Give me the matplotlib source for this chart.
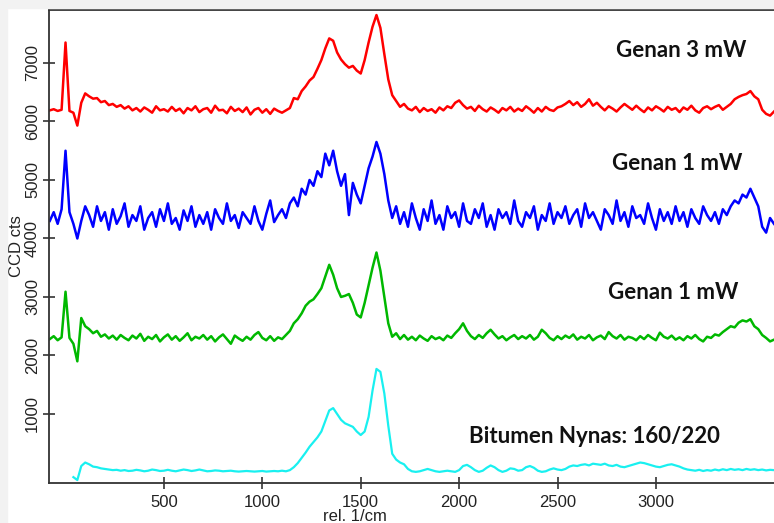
import matplotlib.pyplot as plt
from matplotlib.patches import Rectangle
import numpy as np

plt.rcParams['font.family'] = ['Liberation Sans', 'DejaVu Sans']

# Raman shift grid (rel. 1/cm), one value every 20 1/cm
shift = np.arange(-80, 3601, 20)

genan_3mw = [
    6190, 6210, 6180, 6200, 7350, 6180, 6150, 5930, 6320, 6480,
    6430, 6390, 6400, 6330, 6350, 6280, 6300, 6250, 6280, 6220,
    6260, 6190, 6230, 6170, 6240, 6200, 6150, 6260, 6190, 6210,
    6170, 6250, 6180, 6220, 6140, 6230, 6190, 6260, 6160, 6210,
    6230, 6150, 6270, 6190, 6200, 6140, 6250, 6180, 6220, 6160,
    6240, 6120, 6200, 6230, 6150, 6210, 6130, 6220, 6180, 6150,
    6190, 6230, 6400, 6380, 6520, 6600, 6700, 6760, 6900, 7050,
    7250, 7420, 7380, 7180, 7060, 6980, 6920, 6950, 6870, 6820,
    7050, 7350, 7620, 7820, 7600, 7150, 6720, 6450, 6350, 6250,
    6300, 6220, 6190, 6250, 6160, 6230, 6180, 6210, 6150, 6240,
    6190, 6260, 6230, 6320, 6360, 6280, 6220, 6250, 6180, 6270,
    6210, 6170, 6240, 6200, 6150, 6230, 6190, 6250, 6170, 6220,
    6180, 6260, 6210, 6150, 6230, 6170, 6250, 6200, 6180, 6240,
    6260, 6300, 6350, 6280, 6330, 6250, 6300, 6380, 6270, 6320,
    6250, 6190, 6260, 6220, 6170, 6240, 6300, 6250, 6200, 6270,
    6210, 6160, 6240, 6190, 6260, 6220, 6170, 6250, 6200, 6230,
    6160, 6240, 6200, 6270, 6190, 6150, 6230, 6260, 6210, 6250,
    6280, 6200, 6250, 6300, 6380, 6420, 6450, 6470, 6520, 6430,
    6380, 6200, 6130, 6100, 6170,
]

genan_1mw_a = [
    4300, 4450, 4250, 4500, 5500, 4450, 4250, 4000, 4300, 4550,
    4400, 4200, 4550, 4300, 4450, 4150, 4500, 4250, 4380, 4600,
    4200, 4400, 4300, 4550, 4150, 4350, 4450, 4200, 4500, 4300,
    4600, 4250, 4350, 4150, 4480, 4300, 4550, 4200, 4400, 4250,
    4450, 4150, 4500, 4350, 4250, 4600, 4300, 4400, 4180, 4450,
    4350, 4250, 4550, 4300, 4150, 4420, 4650, 4280, 4400, 4500,
    4350, 4600, 4700, 4550, 4850, 4750, 5000, 4900, 5150, 5050,
    5450, 5250, 5500, 5150, 4900, 5100, 4400, 4950, 4750, 4600,
    4900, 5200, 5400, 5650, 5450, 5100, 4650, 4350, 4550, 4250,
    4450, 4200, 4600, 4350, 4150, 4500, 4300, 4650, 4250, 4400,
    4150, 4550, 4350, 4450, 4200, 4600, 4300, 4250, 4500, 4350,
    4600, 4200, 4400, 4150, 4500, 4350, 4450, 4250, 4650, 4300,
    4200, 4450, 4350, 4550, 4150, 4400, 4300, 4600, 4250, 4450,
    4350, 4550, 4250, 4400, 4500, 4200, 4600, 4350, 4450, 4300,
    4150, 4500, 4400, 4250, 4650, 4300, 4450, 4200, 4550, 4350,
    4400, 4250, 4600, 4350, 4150, 4500, 4300, 4450, 4250, 4550,
    4300, 4450, 4200, 4500, 4350, 4250, 4550, 4400, 4300, 4450,
    4250, 4500, 4400, 4550, 4650, 4600, 4750, 4700, 4850, 4700,
    4550, 4200, 4100, 4350, 4250,
]

genan_1mw_b = [
    2280, 2330, 2260, 2310, 3090, 2300, 2200, 1900, 2640, 2500,
    2450, 2380, 2420, 2320, 2360, 2290, 2340, 2270, 2350, 2300,
    2260, 2340, 2290, 2370, 2250, 2320, 2280, 2350, 2240, 2310,
    2360, 2270, 2330, 2250, 2310, 2380, 2260, 2320, 2290, 2350,
    2270, 2330, 2240, 2310, 2360, 2280, 2200, 2340, 2290, 2250,
    2320, 2270, 2350, 2400, 2300, 2260, 2330, 2250, 2310, 2280,
    2350, 2420, 2550, 2620, 2720, 2850, 2920, 2960, 3050, 3150,
    3350, 3550, 3380, 3150, 3000, 3020, 3050, 2900, 2700, 2650,
    2900, 3200, 3500, 3760, 3450, 3000, 2550, 2320, 2380, 2280,
    2350, 2270, 2320, 2260, 2340, 2290, 2250, 2330, 2280, 2310,
    2260, 2340, 2300, 2380, 2450, 2550, 2420, 2330, 2280, 2350,
    2300, 2380, 2440, 2360, 2290, 2330, 2260, 2310, 2350, 2280,
    2330, 2290, 2350, 2270, 2320, 2440, 2380, 2300, 2260, 2330,
    2280, 2340, 2300, 2360, 2270, 2320, 2290, 2350, 2260, 2310,
    2340, 2280, 2400, 2330, 2290, 2350, 2270, 2320, 2300, 2260,
    2330, 2280, 2350, 2300, 2260, 2390, 2320, 2290, 2340, 2270,
    2310, 2260, 2330, 2290, 2350, 2280, 2240, 2320, 2300, 2360,
    2340, 2400, 2450, 2500, 2480, 2560, 2600, 2580, 2620, 2500,
    2450, 2350, 2300, 2240, 2270,
]

bitumen = [
    None, None, None, None, None, None, -80, -130, 110, 170,
    140, 100, 90, 70, 60, 50, 40, 45, 30, 40,
    25, 30, 45, 35, 20, 30, 50, 40, 25, 30,
    45, 30, 20, 35, 50, 40, 25, 35, 50, 35,
    20, 25, 35, 30, 20, 25, 30, 20, 15, 20,
    25, 20, 15, 20, 25, 15, 20, 25, 20, 30,
    20, 40, 90, 160, 250, 340, 440, 520, 600, 700,
    880, 1060, 1100, 1000, 900, 840, 810, 780, 700, 640,
    700, 950, 1400, 1770, 1720, 1350, 800, 320, 220, 170,
    140, 60, 20, 10, 20, 40, 60, 40, 20, 10,
    20, 30, 20, 10, 40, 110, 130, 90, 40, 10,
    30, 80, 120, 90, 40, 10, 30, 70, 60, 30,
    40, 90, 110, 80, 30, 10, 20, 50, 70, 50,
    40, 60, 100, 120, 110, 130, 140, 120, 150, 140,
    130, 150, 120, 110, 130, 100, 90, 110, 130, 150,
    170, 160, 140, 120, 100, 90, 110, 130, 140, 120,
    100, 70, 50, 40, 30, 45, 25, 40, 30, 50,
    35, 55, 40, 60, 45, 55, 40, 60, 45, 55,
    40, 50, 35, 45, 40,
]

labels = ['Genan 3 mW', 'Genan 1 mW', 'Genan 1 mW', 'Bitumen Nynas: 160/220']
label_pos = [(3127, 7220), (3107, 5290), (3087, 3085), (2690, 607)]

fig = plt.figure(figsize=(7.74, 5.23), dpi=100)
# light grey frame of the screenshot
fig.patches.append(Rectangle((0, 0), 0.009, 1, transform=fig.transFigure,
                             color='#f2f2f2', zorder=0))
fig.patches.append(Rectangle((0, 0.985), 1, 0.015, transform=fig.transFigure,
                             color='#f2f2f2', zorder=0))

ax = fig.add_axes([0.0633, 0.0765, 0.9367, 0.9044])

ax.plot(shift, genan_3mw, color='#ff0000', lw=1.8)
ax.plot(shift, genan_1mw_a, color='#0000ff', lw=1.8)
ax.plot(shift, genan_1mw_b, color='#00b800', lw=1.8)
ax.plot(shift, np.array(bitumen, dtype=float), color='#19f0f0', lw=1.6)

for text, (x, y) in zip(labels, label_pos):
    ax.text(x, y, text, ha='center', va='center', fontsize=16,
            fontweight='bold', family='Lato', color='#111111')

ax.set_xlim(-84, 3600)
ax.set_ylim(-180, 7906)
ax.set_xticks([500, 1000, 1500, 2000, 2500, 3000])
ax.set_yticks([1000, 2000, 3000, 4000, 5000, 6000, 7000])
ax.tick_params(direction='inout', length=9, width=1.2, color='#333333',
               labelsize=12, labelcolor='#222222', pad=2)
for lab in ax.get_yticklabels():
    lab.set_rotation(90)
    lab.set_va('center')
ax.tick_params(axis='x', pad=4)

for side in ['left', 'bottom', 'top']:
    ax.spines[side].set_color('#333333')
    ax.spines[side].set_linewidth(1.3)
ax.spines['right'].set_visible(False)

ax.set_xlabel('rel. 1/cm', fontsize=12, color='#222222')
ax.xaxis.set_label_coords(0.422, -0.055)
ax.set_ylabel('CCD cts', fontsize=12, color='#222222')
ax.yaxis.set_label_coords(-0.035, 0.5)

fig.savefig('out.png', dpi=100)
